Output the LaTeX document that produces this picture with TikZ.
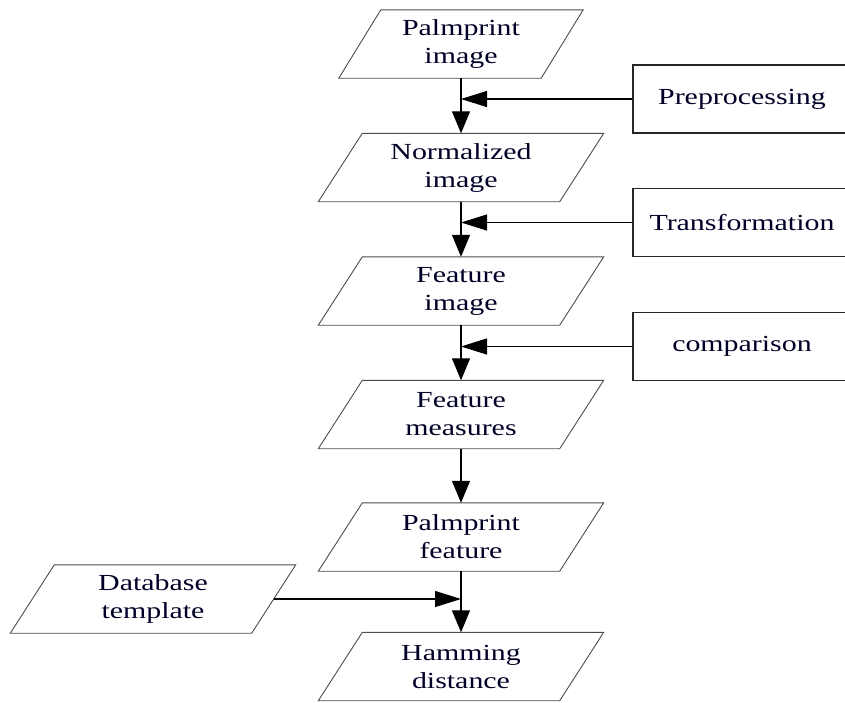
\documentclass[tikz,border=0pt]{standalone}
\usepackage{fontspec}
\setmainfont{Liberation Serif}[FakeStretch=1.3]
\usetikzlibrary{arrows.meta}
\tikzset{
  every node/.style={font=\fontsize{23}{28}\selectfont, text=black!85!blue},
  paraA/.style={rectangle, inner sep=0pt, minimum width=202pt, minimum height=68pt, align=center},
  paraB/.style={rectangle, inner sep=0pt, minimum width=241pt, minimum height=68pt, align=center},
  opbox/.style={rectangle, draw=black!85, line width=1.2pt, inner sep=0pt, minimum width=218pt, minimum height=68pt, align=center},
  outline/.style={draw=black!70, line width=0.9pt},
  flow/.style={line width=1.3pt, -{Triangle[length=22pt,width=18pt]}},
  side/.style={line width=1.1pt, -{Triangle[length=26pt,width=16pt]}},
  plain/.style={line width=1.3pt}
}
\newcommand{\drawpara}[2]{%
  \draw[outline] ([xshift=#2pt]#1.north west) -- ([xshift=#2pt]#1.north east)
    -- ([xshift=-#2pt]#1.south east) -- ([xshift=-#2pt]#1.south west) -- cycle;}
\begin{document}
\begin{tikzpicture}[x=1pt,y=-1pt]
\useasboundingbox (0,0) rectangle (845,702);
\clip (0,0) rectangle (845,702);
\node[paraA] (pi) at (461,44) {Palmprint\\image};
\node[paraB] (ni) at (461,167.5) {Normalized\\image};
\node[paraB] (fi) at (461,291) {Feature\\image};
\node[paraB] (fm) at (461,414.5) {Feature\\measures};
\node[paraB] (pf) at (461,537) {Palmprint\\feature};
\node[paraB] (hd) at (461,666.5) {Hamming\\distance};
\node[paraB] (db) at (153,599) {Database\\template};
\drawpara{pi}{21}
\drawpara{ni}{22}
\drawpara{fi}{22}
\drawpara{fm}{22}
\drawpara{pf}{22}
\drawpara{hd}{22}
\drawpara{db}{22}

\node[opbox] (pre) at (742,99) {Preprocessing};
\node[opbox] (tr) at (742,222.5) {Transformation};
\node[opbox] (cmp) at (742,346.5) {comparison};

\coordinate (j1) at (pi.south |- pre.west);
\coordinate (j2) at (ni.south |- tr.west);
\coordinate (j3) at (fi.south |- cmp.west);
\coordinate (j4) at (pf.south |- db.east);

\draw[flow] (pi.south) -- (ni.north);
\draw[flow] (ni.south) -- (fi.north);
\draw[flow] (fi.south) -- (fm.north);
\draw[flow] (fm.south) -- (pf.north);
\draw[flow] (pf.south) -- (hd.north);

\draw[side] (pre.west) -- (j1);
\draw[side] (tr.west) -- (j2);
\draw[side] (cmp.west) -- (j3);
\draw[side] (db.east) -- (j4);
\end{tikzpicture}
\end{document}
